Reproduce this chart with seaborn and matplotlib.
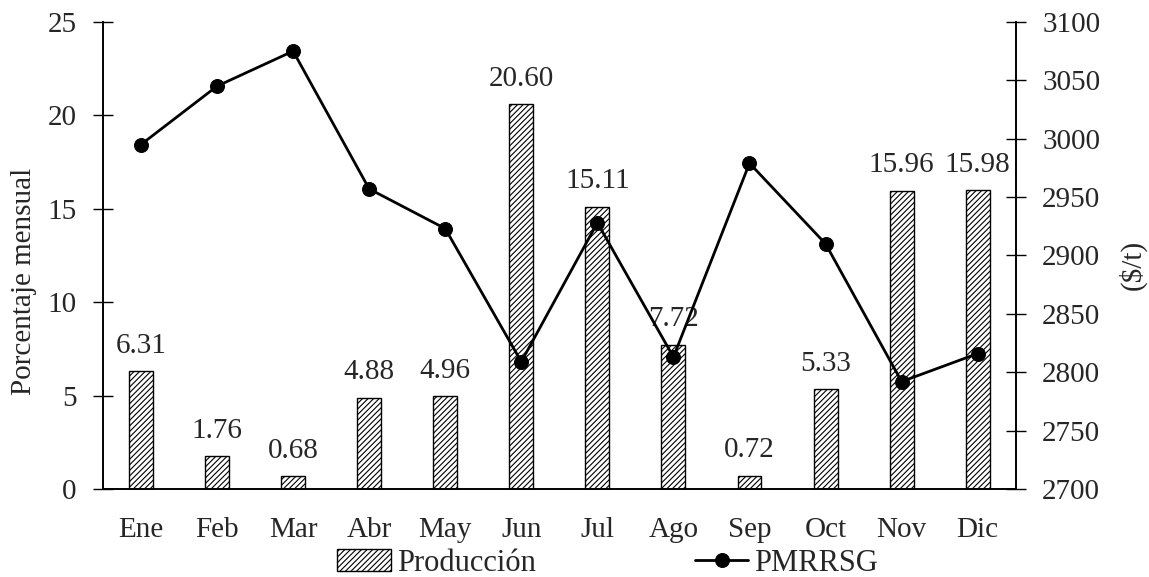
import pandas as pd
import matplotlib
matplotlib.use("Agg")
import matplotlib.pyplot as plt
import seaborn as sns

meses = ["Ene", "Feb", "Mar", "Abr", "May", "Jun", "Jul", "Ago", "Sep", "Oct", "Nov", "Dic"]
produccion = [6.31, 1.76, 0.68, 4.88, 4.96, 20.60, 15.11, 7.72, 0.72, 5.33, 15.96, 15.98]
pmrrsg = [2995, 3045, 3075, 2957, 2923, 2809, 2928, 2813, 2979, 2910, 2792, 2816]

sns.set_style("white")
plt.rcParams["font.family"] = ["Liberation Serif", "DejaVu Serif"]
plt.rcParams["font.size"] = 21
plt.rcParams["hatch.linewidth"] = 0.8

df = pd.DataFrame({"mes": meses, "produccion": produccion, "pmrrsg": pmrrsg})

fig, ax = plt.subplots(figsize=(11.49, 5.77), dpi=100)
fig.subplots_adjust(left=0.0896, right=0.884, top=0.962, bottom=0.1525)

sns.barplot(data=df, x="mes", y="produccion", ax=ax, color="white",
            edgecolor="black", linewidth=1.0, width=0.315, hatch="//////",
            label="Producción")
ax.bar_label(ax.containers[0], fmt="%.2f", padding=9, fontsize=21)
ax.set_ylim(0, 25)
ax.set_xlim(-0.5, 11.5)
ax.set_yticks(range(0, 26, 5))
ax.set_xlabel("")
ax.set_ylabel("Porcentaje mensual", fontsize=21)
ax.yaxis.set_label_coords(-0.072, 0.445)
ax.tick_params(axis="y", direction="inout", length=14, width=1, labelsize=21,
               left=True, color="black", pad=12)
ax.tick_params(axis="x", length=0, labelsize=21, pad=20)

ax2 = ax.twinx()
sns.lineplot(data=df, x="mes", y="pmrrsg", ax=ax2, color="black", linewidth=2,
             marker="o", markersize=10, markeredgecolor="black", label="PMRRSG")
ax2.set_ylim(2700, 3100)
ax2.set_yticks(range(2700, 3101, 50))
ax2.set_ylabel(r"(\$/t)", fontsize=21)
ax2.yaxis.set_label_coords(1.112, 0.48)
ax2.tick_params(axis="y", direction="inout", length=14, width=1, labelsize=21,
                right=True, color="black", pad=12)

for a in (ax, ax2):
    a.spines["top"].set_visible(False)
    for s in ("left", "right", "bottom"):
        a.spines[s].set_color("black")
        a.spines[s].set_linewidth(1.2)

h1, l1 = ax.get_legend_handles_labels()
h2, l2 = ax2.get_legend_handles_labels()
if ax2.get_legend():
    ax2.get_legend().remove()
if ax.get_legend():
    ax.get_legend().remove()
fig.legend(h1 + h2, l1 + l2, loc="center", bbox_to_anchor=(0.529, 0.024), ncol=2,
           frameon=False, fontsize=22, columnspacing=5.2, handlelength=1.75,
           handletextpad=0.2, borderpad=0, borderaxespad=0)

fig.savefig("out.png", dpi=100)
